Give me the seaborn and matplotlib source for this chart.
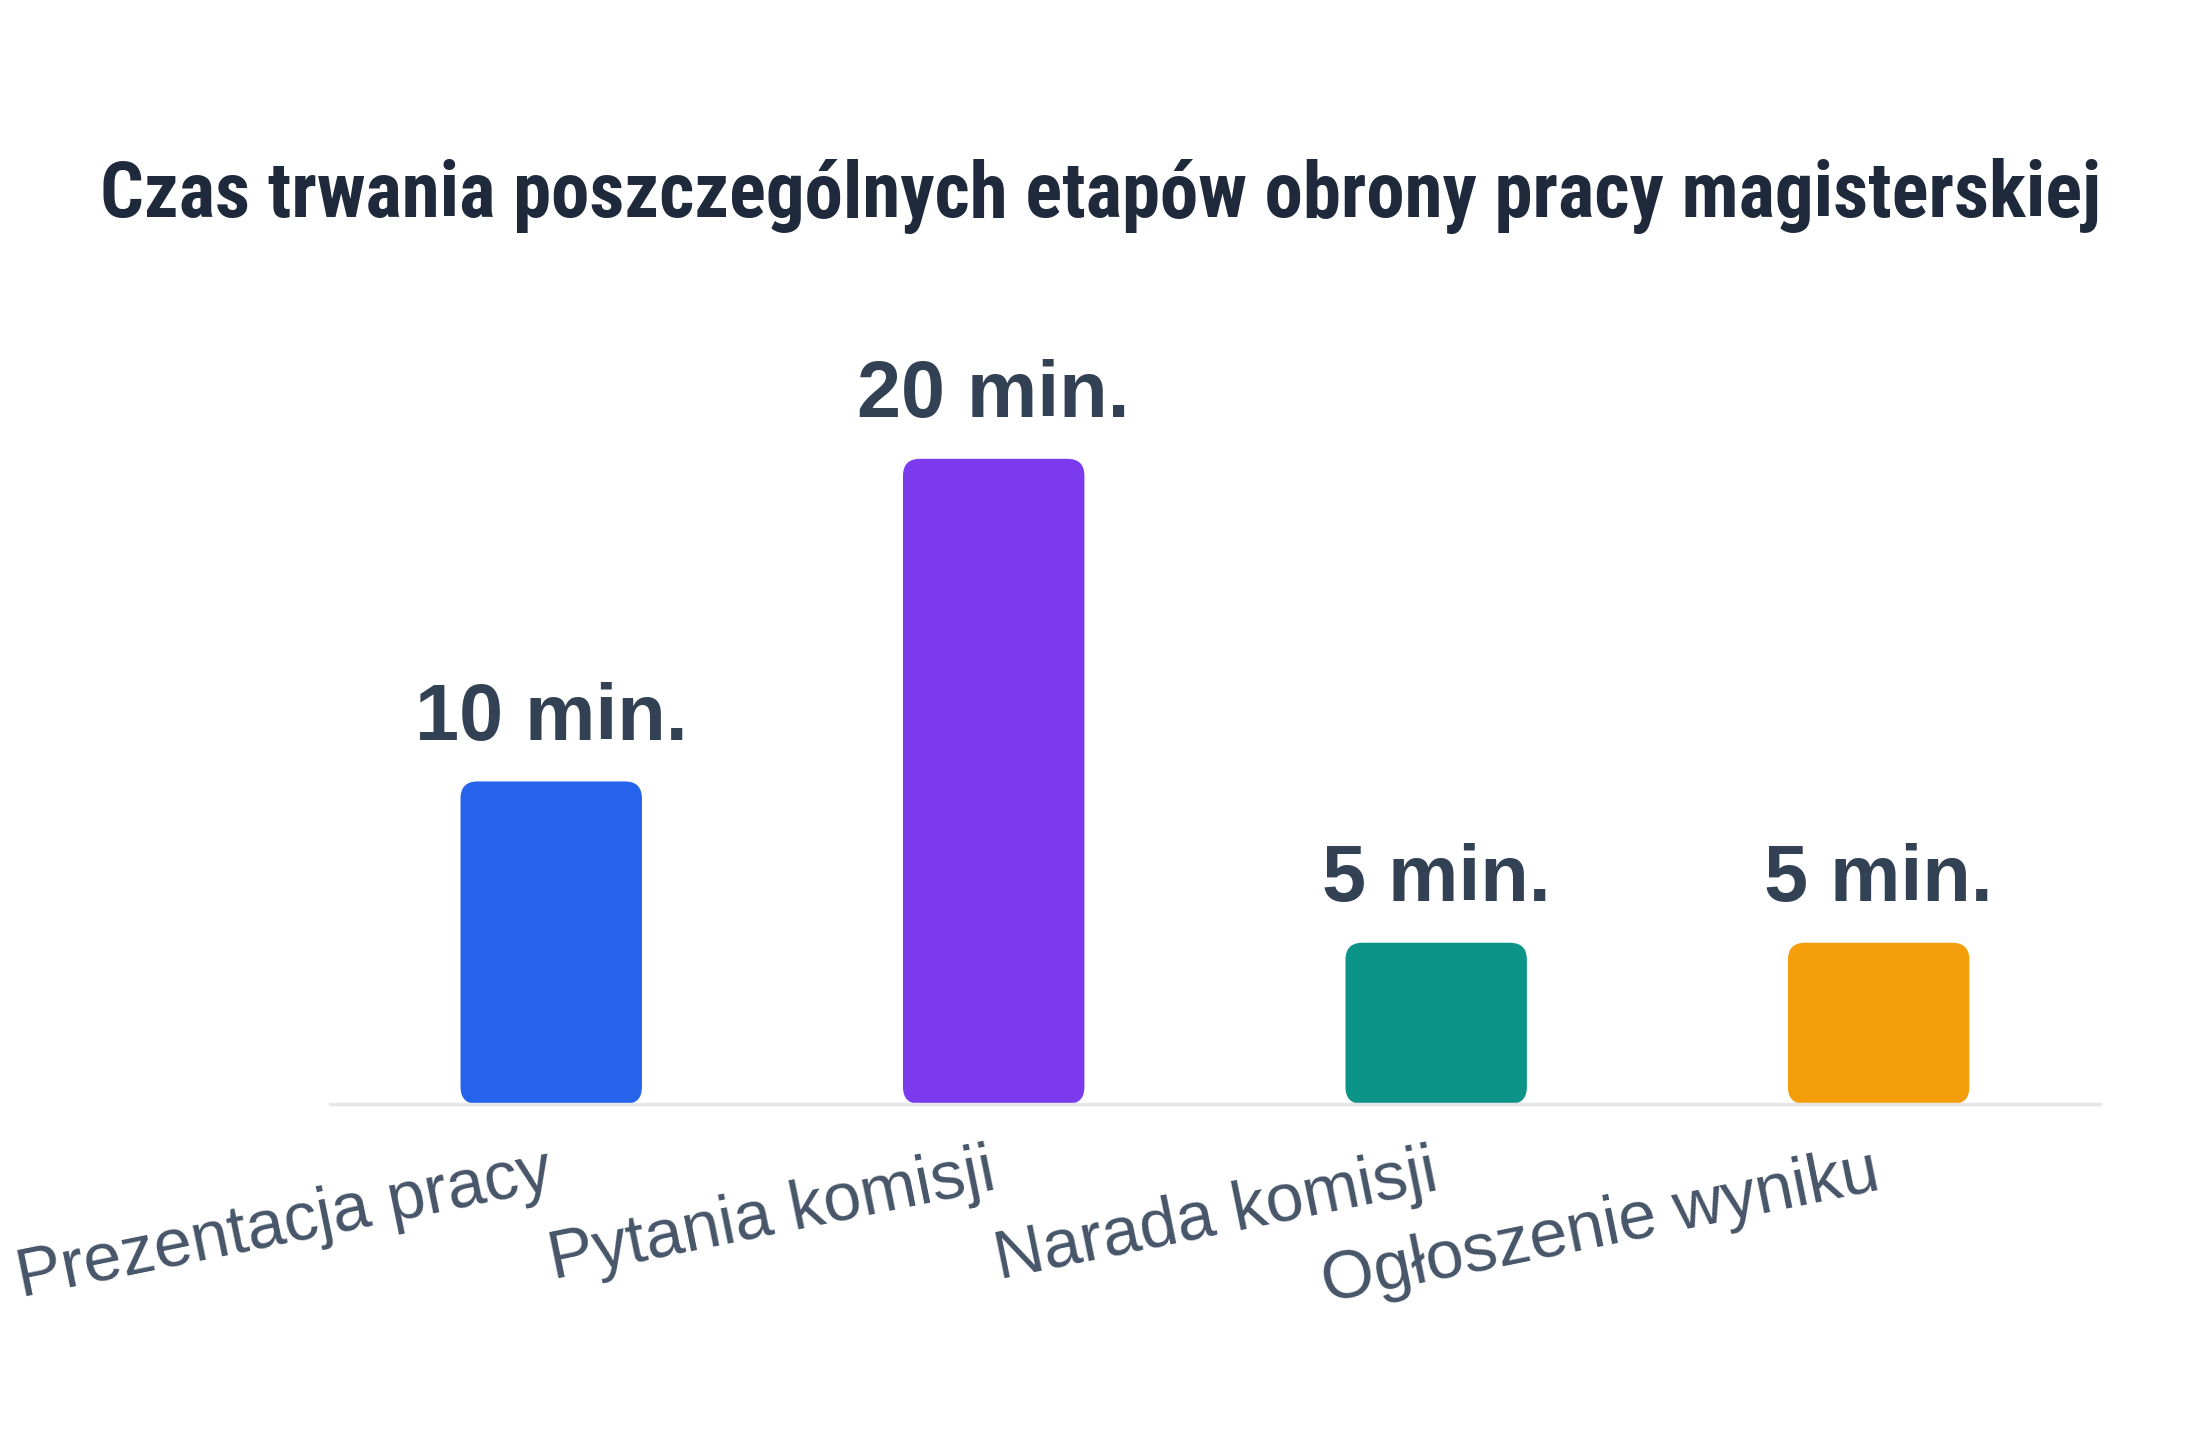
import matplotlib
matplotlib.use("Agg")
import matplotlib.pyplot as plt
import matplotlib.transforms as mtransforms
from matplotlib import font_manager
from matplotlib.patches import FancyBboxPatch
import pandas as pd
import seaborn as sns

# ---------------------------------------------------------------------------
# Data
# ---------------------------------------------------------------------------
stages = ["Prezentacja pracy", "Pytania komisji", "Narada komisji", "Ogłoszenie wyniku"]
minutes = [10, 20, 5, 5]
value_labels = ["10 min.", "20 min.", "5 min.", "5 min."]
colors = ["#2563eb", "#7c3aed", "#0d9488", "#f59e0b"]
title = "Czas trwania poszczególnych etapów obrony pracy magisterskiej"

df = pd.DataFrame({"stage": stages, "minutes": minutes})

# ---------------------------------------------------------------------------
# Plot
# ---------------------------------------------------------------------------
sns.set_theme(style="white")
plt.rcParams["font.family"] = ["Liberation Sans", "DejaVu Sans"]

fig = plt.figure(figsize=(22, 14.4), dpi=100)
ax = fig.add_axes([0.15, 0.2333, 0.8045, 0.5377])

sns.barplot(
    data=df, x="stage", y="minutes", hue="stage",
    palette=colors, saturation=1, width=0.41, legend=False, ax=ax,
)
ax.set_xlim(-0.5, len(stages) - 0.5)
ax.set_ylim(0, max(minutes) * 1.2)

# swap plain bars for rounded ones
px_x = ax.bbox.width / (ax.get_xlim()[1] - ax.get_xlim()[0])
px_y = ax.bbox.height / (ax.get_ylim()[1] - ax.get_ylim()[0])
radius_px = 17
for bar in list(ax.patches):
    x, y = bar.get_x(), bar.get_y()
    w, h = bar.get_width(), bar.get_height()
    rounded = FancyBboxPatch(
        (x, y), w, h,
        boxstyle=f"round,pad=0,rounding_size={radius_px / px_x}",
        mutation_aspect=px_x / px_y,
        facecolor=bar.get_facecolor(), edgecolor="none",
    )
    bar.remove()
    ax.add_patch(rounded)

# value labels
for i, (val, lab) in enumerate(zip(minutes, value_labels)):
    ax.annotate(
        lab, (i, val), xytext=(0, 30), textcoords="offset points",
        ha="center", va="baseline", fontsize=57, fontweight="bold",
        color="#334155",
    )

# axes styling
for side in ["top", "right", "left"]:
    ax.spines[side].set_visible(False)
ax.spines["bottom"].set_color("#e5e7eb")
ax.spines["bottom"].set_linewidth(2.5)
ax.set_yticks([])
ax.set_xlabel("")
ax.set_ylabel("")
ax.tick_params(axis="x", length=0, pad=26)
ax.set_xticks(range(len(stages)))
ax.set_xticklabels(stages, rotation=11.5, ha="right", rotation_mode="anchor",
                   fontsize=49, color="#475569")
shift = mtransforms.ScaledTranslation(-6 / 100, 0, fig.dpi_scale_trans)
for lbl in ax.get_xticklabels():
    lbl.set_transform(lbl.get_transform() + shift)

# title: prefer a narrow bold face, fit it to the same width as the reference
installed = {f.name for f in font_manager.fontManager.ttflist}
narrow = next((n for n in ["Liberation Sans Narrow", "Arial Narrow",
                           "Roboto Condensed", "Open Sans Condensed",
                           "DejaVu Sans Condensed"] if n in installed),
              "Liberation Sans")
t = fig.text(0.5, 0.864, title, ha="center", va="center", fontsize=57,
             fontweight="bold", color="#1e293b", family=[narrow, "DejaVu Sans"])
fig.canvas.draw()
width_px = t.get_window_extent().width
t.set_fontsize(57 * min(1.0, 2000 / width_px))

fig.savefig("out.png", dpi=100, facecolor="white")
